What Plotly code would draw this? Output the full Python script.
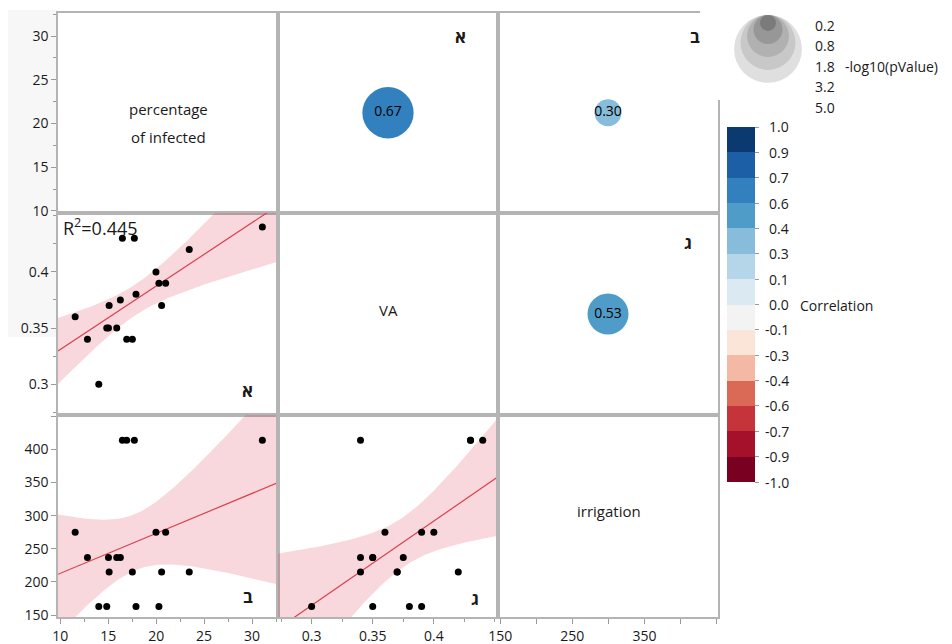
import numpy as np
import plotly.graph_objects as go

# ---------------- data ----------------
var_names = ["percentage of infected", "VA", "irrigation"]
percentage_infected = [11.56, 12.84, 14.02, 14.85, 15.03, 15.10, 15.89, 16.27, 16.48, 16.93,
                       17.52, 17.73, 17.90, 19.98, 20.29, 20.57, 20.99, 23.45, 31.07]
va = [0.36, 0.34, 0.30, 0.35, 0.35, 0.37, 0.35, 0.375, 0.43, 0.34,
      0.34, 0.43, 0.38, 0.40, 0.39, 0.37, 0.39, 0.42, 0.44]
irrigation = [275, 237, 163, 163, 237, 215, 237, 237, 414, 414,
              215, 414, 163, 275, 163, 215, 275, 215, 414]

# pairs (col var index, row var index) : correlation, -log10(p), hebrew label
pairs = [(0, 1), (0, 2), (1, 2)]
pair_corr = [0.67, 0.30, 0.53]
pair_neglogp = [2.77, 0.68, 1.72]
pair_letters = ["א", "ב", "ג"]
r2_text = "0.445"

legend_neglogp = [0.2, 0.8, 1.8, 3.2, 5.0]
cbar_tickvals = [k / 7 for k in range(-7, 8)]
cbar_colors = ["#7a0022", "#a5102b", "#c5333b", "#da6a55", "#f3b9a4", "#fbe5d9", "#f3f3f4",
               "#dbe9f3", "#b5d6e9", "#87bddb", "#4f9cc8", "#3380bf", "#1d5fa6", "#0a3a70"]

data_vars = [np.array(percentage_infected), np.array(va), np.array(irrigation, dtype=float)]
ranges = [[9.77, 32.7], [0.2725, 0.4525], [147, 452]]

# ---------------- layout helpers ----------------
W, H = 952, 644
col_edges = [58, 278, 498, 718]
row_edges = [12.5, 213, 415, 617]
cbar_top, cbar_bottom = 127, 482
FONT = "Open Sans, DejaVu Sans, sans-serif"
TXT = "#1a1a1a"
LINEC = "#b4b4b4"
TICKC = "#9a9a9a"

upper_letter_pos = [(-30, 24), (-16, 24), (-24, 29)]     # from right edge / top edge
lower_letter_pos = [(-23, -25), (-23, -21), (-17, -19)]  # from right edge / bottom edge


def px(x):
    return x / W


def py(y):
    return 1 - y / H


def bubble_size(v):
    return 29 * np.sqrt(v) + 3


def corr_color(r):
    i = int(np.floor((r + 1) / 2 * 14 + 1e-9))
    return cbar_colors[min(max(i, 0), 13)]


def ax_name(k, kind):
    return f"{kind}axis" if k == 1 else f"{kind}axis{k}"


def ax_ref(k, kind):
    return kind if k == 1 else f"{kind}{k}"


tick_specs = [
    dict(tickvals=[10, 15, 20, 25, 30], ticktext=["10", "15", "20", "25", "30"],
         minor=[12.5, 17.5, 22.5, 27.5, 32.5], minorlen=3),
    dict(tickvals=[0.3, 0.35, 0.4], ticktext=["0.3", "0.35", "0.4"],
         minor=[0.275, 0.325, 0.375, 0.425, 0.45], minorlen=3),
]
irr_left = dict(tickvals=[150, 200, 250, 300, 350, 400],
                ticktext=["150", "200", "250", "300", "350", "400"], minor=[450], minorlen=5)
irr_bottom = dict(tickvals=[150, 250, 350], ticktext=["150", "250", "350"],
                  minor=[200, 300, 400, 450], minorlen=5)

fig = go.Figure()
layout = dict(template="none", width=W, height=H, margin=dict(l=0, r=0, t=0, b=0, pad=0),
              paper_bgcolor="white", plot_bgcolor="white", showlegend=False,
              font=dict(family=FONT, size=14, color=TXT))


def axis_common(domain, rng, anchor):
    return dict(domain=domain, range=rng, anchor=anchor, showline=True, mirror=True,
                linecolor=LINEC, linewidth=1.5, showgrid=False, zeroline=False,
                fixedrange=True, automargin=False)


def apply_ticks(axd, spec):
    axd.update(tickmode="array", tickvals=spec["tickvals"], ticktext=spec["ticktext"],
               ticks="outside", ticklen=5, tickcolor=TICKC, tickwidth=1,
               showticklabels=True, tickfont=dict(size=14, color=TXT))
    axd["minor"] = dict(tickvals=spec["minor"], ticks="outside", ticklen=spec["minorlen"],
                        tickcolor=TICKC, tickwidth=1)


for r in range(3):
    for c in range(3):
        k = r * 3 + c + 1
        xa = axis_common([px(col_edges[c]), px(col_edges[c + 1])], ranges[c], ax_ref(k, "y"))
        ya = axis_common([py(row_edges[r + 1]), py(row_edges[r])], ranges[r], ax_ref(k, "x"))
        if r == 2:
            apply_ticks(xa, tick_specs[c] if c < 2 else irr_bottom)
        else:
            xa.update(ticks="", showticklabels=False)
        if c == 0:
            apply_ticks(ya, tick_specs[r] if r < 2 else irr_left)
        else:
            ya.update(ticks="", showticklabels=False)
        layout[ax_name(k, "x")] = xa
        layout[ax_name(k, "y")] = ya

# discrete colorscale
cscale = []
for i, col in enumerate(cbar_colors):
    cscale.append([i / 14, col])
    cscale.append([(i + 1) / 14, col])

annotations = []
T975 = 2.1098  # t quantile, df = 17

for idx, (ci, ri) in enumerate(pairs):
    # ---- lower triangle: scatter + fit (row = ri, col = ci)
    k_low = ri * 3 + ci + 1
    xr, yr = ax_ref(k_low, "x"), ax_ref(k_low, "y")
    x = data_vars[ci]
    y = data_vars[ri]
    n = len(x)
    b, a = np.polyfit(x, y, 1)
    resid = y - (a + b * x)
    s = np.sqrt(np.sum(resid ** 2) / (n - 2))
    xm = x.mean()
    sxx = np.sum((x - xm) ** 2)
    xs = np.linspace(ranges[ci][0], ranges[ci][1], 120)
    yfit = a + b * xs
    half = T975 * s * np.sqrt(1 / n + (xs - xm) ** 2 / sxx)
    fig.add_trace(go.Scatter(x=np.concatenate([xs, xs[::-1]]),
                             y=np.concatenate([yfit + half, (yfit - half)[::-1]]),
                             fill="toself", fillcolor="rgba(214,39,60,0.18)",
                             line=dict(width=0), mode="lines", hoverinfo="skip",
                             xaxis=xr, yaxis=yr))
    fig.add_trace(go.Scatter(x=xs, y=yfit, mode="lines",
                             line=dict(color="#d9404e", width=1.2), hoverinfo="skip",
                             xaxis=xr, yaxis=yr))
    fig.add_trace(go.Scatter(x=x, y=y, mode="markers",
                             marker=dict(color="black", size=7),
                             xaxis=xr, yaxis=yr))
    dx, dy = lower_letter_pos[idx]
    annotations.append(dict(text=f"<b>{pair_letters[idx]}</b>", xref="paper", yref="paper",
                            x=px(col_edges[ci + 1] + dx), y=py(row_edges[ri + 1] + dy),
                            xanchor="right", yanchor="middle",
                            showarrow=False, font=dict(size=17, color=TXT)))

    # ---- upper triangle: bubble (row = ci, col = ri)
    k_up = ci * 3 + ri + 1
    xc = sum(ranges[ri]) / 2
    yc = sum(ranges[ci]) / 2
    fig.add_trace(go.Scatter(x=[xc], y=[yc], mode="markers+text",
                             text=[f"{pair_corr[idx]:.2f}"], textposition="middle center",
                             textfont=dict(size=14, color="black"),
                             marker=dict(size=[bubble_size(pair_neglogp[idx])],
                                         color=corr_color(pair_corr[idx]), opacity=1,
                                         line=dict(width=0)),
                             xaxis=ax_ref(k_up, "x"), yaxis=ax_ref(k_up, "y")))
    dx, dy = upper_letter_pos[idx]
    annotations.append(dict(text=f"<b>{pair_letters[idx]}</b>", xref="paper", yref="paper",
                            x=px(col_edges[ri + 1] + dx), y=py(row_edges[ci] + dy),
                            xanchor="right", yanchor="middle",
                            showarrow=False, font=dict(size=17, color=TXT)))

# invisible traces so the diagonal panels are drawn; the first one carries the colour bar
for d in range(3):
    k = d * 3 + d + 1
    mk = dict(size=1, opacity=0)
    if d == 0:
        mk = dict(size=1, opacity=0, color=[0], colorscale=cscale, cmin=-1, cmax=1,
                  showscale=True,
                  colorbar=dict(x=px(727), xanchor="left", xpad=0,
                                y=py((cbar_top + cbar_bottom) / 2), yanchor="middle", ypad=0,
                                len=cbar_bottom - cbar_top, lenmode="pixels",
                                thickness=28, thicknessmode="pixels", outlinewidth=0,
                                tickmode="array", tickvals=cbar_tickvals, ticks="outside",
                                ticklen=4, tickcolor=TICKC, showticklabels=False))
    fig.add_trace(go.Scatter(x=[sum(ranges[d]) / 2], y=[sum(ranges[d]) / 2], mode="markers",
                             marker=mk, hoverinfo="skip",
                             xaxis=ax_ref(k, "x"), yaxis=ax_ref(k, "y")))

# colour bar labels (right aligned like the reference)
for v in cbar_tickvals:
    yy = cbar_top + (1 - v) / 2 * (cbar_bottom - cbar_top)
    annotations.append(dict(text=f"{v:.1f}", xref="paper", yref="paper", x=px(791), y=py(yy),
                            xanchor="right", yanchor="middle", showarrow=False,
                            font=dict(size=14, color=TXT)))

# diagonal labels
diag_texts = [("percentage", 168, 109), ("of infected", 168, 137),
              (var_names[1], 388, 310), (var_names[2], 609, 511)]
for t, xx, yy in diag_texts:
    annotations.append(dict(text=t, xref="paper", yref="paper", x=px(xx), y=py(yy),
                            xanchor="center", yanchor="middle", showarrow=False,
                            font=dict(size=15, color=TXT)))
# R^2
annotations.append(dict(text=f"R<sup>2</sup>={r2_text}", xref="paper", yref="paper",
                        x=px(61), y=py(227), xanchor="left", yanchor="middle", showarrow=False,
                        font=dict(size=18, color=TXT)))

# size legend on its own hidden axis (pixel units)
layout["xaxis10"] = dict(domain=[px(700), px(820)], range=[700, 820], visible=False,
                         anchor="y10", fixedrange=True, automargin=False)
layout["yaxis10"] = dict(domain=[py(100), py(0)], range=[100, 0], visible=False,
                         anchor="x10", fixedrange=True, automargin=False)
legend_greys = ["#6f6f6f", "#8c8c8c", "#a6a6a6", "#bdbdbd", "#d2d2d2"]
for v, gcol in sorted(zip(legend_neglogp, legend_greys), key=lambda t: -t[0]):
    d = bubble_size(v)
    fig.add_trace(go.Scatter(x=[768], y=[15 + d / 2], mode="markers",
                             marker=dict(size=[d], color=gcol, line=dict(width=0)),
                             hoverinfo="skip", xaxis="x10", yaxis="y10"))
for i, v in enumerate(legend_neglogp):
    annotations.append(dict(text=f"{v:.1f}", xref="paper", yref="paper", x=px(813),
                            y=py(25 + i * 20.5), xanchor="left", yanchor="middle",
                            showarrow=False, font=dict(size=14, color=TXT)))
annotations.append(dict(text="-log10(pValue)", xref="paper", yref="paper", x=px(843),
                        y=py(66), xanchor="left", yanchor="middle", showarrow=False,
                        font=dict(size=14, color=TXT)))
annotations.append(dict(text="Correlation", xref="paper", yref="paper", x=px(798),
                        y=py(305), xanchor="left", yanchor="middle", showarrow=False,
                        font=dict(size=14, color=TXT)))

layout["annotations"] = annotations
layout["shapes"] = [dict(type="rect", xref="paper", yref="paper", x0=px(8), x1=px(57),
                         y0=py(337), y1=py(10), fillcolor="#f7f7f7",
                         line=dict(width=0), layer="below")]
fig.update_layout(**layout)
fig.write_html("out.html")
